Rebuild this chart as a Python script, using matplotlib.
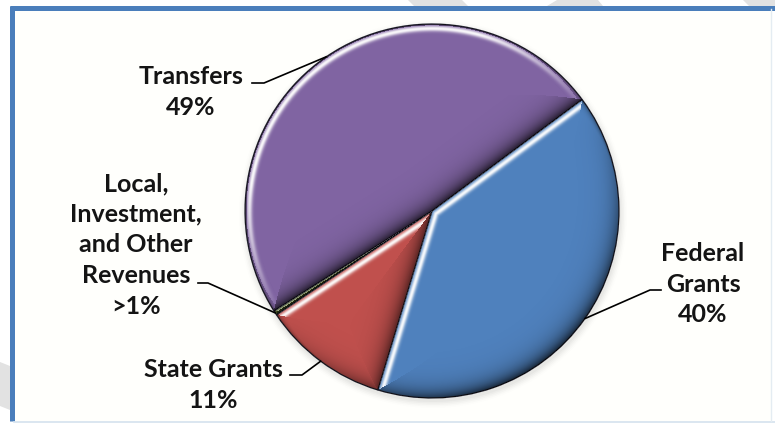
import numpy as np
import matplotlib
matplotlib.use("Agg")
import matplotlib.pyplot as plt
from matplotlib.patches import Rectangle, Polygon, Circle

W, H = 775, 424

# revenue sources, in the order they are laid out clockwise
categories = ["Federal\nGrants", "State Grants",
              "Local,\nInvestment,\nand Other\nRevenues", "Transfers"]
shares = [40, 11, 0.4, 49]
share_labels = ["40%", "11%", ">1%", "49%"]
colors = ["#4f81bd", "#c0504d", "#56682e", "#8064a2"]

# label block centres and elbow of each leader line (pixels, y from top)
label_pos = [(703, 284), (213, 385), (136, 245), (191, 92)]
elbows = [((661, 290), (650, 290)), ((290, 375), (302, 375)),
          ((198, 283), (208, 283)), ((252, 83), (264, 83))]

cx, cy, R = 432, H - 211, 187


def yflip(p):
    return p[0], H - p[1]


fig = plt.figure(figsize=(W / 100, H / 100), dpi=100)
ax = fig.add_axes([0, 0, 1, 1])

# faint watermark stripes outside the frame
for poly in [[(408, 0), (462, 0), (468, 6), (414, 6)],
             [(547, 6), (557, 0), (598, 0), (603, 6)],
             [(743, 0), (775, 0), (775, 6), (749, 6)],
             [(0, 362), (10, 366), (10, 410), (0, 406)]]:
    ax.add_patch(Polygon([yflip(p) for p in poly], closed=True,
                         fc="#e2e2e2", ec="none", zorder=0))

# framed chart area
ax.add_patch(Rectangle((12, H - 421), 759, 414, fc="#fffffc", ec="none", zorder=1))
ax.plot([12, 12], [H - 421, H - 6], color="#4a7ebb", lw=3.6, solid_capstyle="butt", zorder=2)
ax.plot([10, 775], [H - 7.5, H - 7.5], color="#4a7ebb", lw=3.6, solid_capstyle="butt", zorder=2)
ax.plot([14, 775], [H - 421.5, H - 421.5], color="#d4e2ee", lw=1.2, zorder=2)
ax.plot([771, 771], [H - 421, H - 9], color="#e4ecf2", lw=1.0, zorder=2)

# soft shadow under the pie
for k, a in enumerate(np.linspace(0.06, 0.015, 5)):
    ax.add_patch(Circle((cx + 1, cy - 3), R + 1 + 1.5 * k, fc="#808080",
                        ec="none", alpha=a, zorder=2))

wedges, _ = ax.pie(shares, colors=colors, startangle=36.6, counterclock=False,
                   center=(cx, cy), radius=R, frame=True,
                   wedgeprops=dict(edgecolor="#22222e", linewidth=0.9, zorder=3))

# bevel: light from the upper left, highlight / shadow near every wedge edge
ys, xs = np.mgrid[0:H, 0:W]
px = xs + 0.5
py = H - (ys + 0.5)
dx = px - cx
dy = py - cy
r = np.hypot(dx, dy) + 1e-9
phi = np.degrees(np.arctan2(dy, dx)) % 360
light = np.array([-0.55, 0.83])
shade = np.zeros((H, W))
depth = np.full((H, W), np.inf)

for w in wedges:
    t1, t2 = w.theta1, w.theta2
    span = t2 - t1
    a = (phi - t1) % 360
    inside = (r <= R) & (a <= span)
    d_arc = R - r
    d1 = np.where(a <= 90, r * np.sin(np.radians(a)), r)
    d2 = np.where(span - a <= 90, r * np.sin(np.radians(span - a)), r)
    n1 = np.radians(t1 - 90)
    n2 = np.radians(t2 + 90)
    s_arc = (dx * light[0] + dy * light[1]) / r
    s1 = np.cos(n1) * light[0] + np.sin(n1) * light[1]
    s2 = np.cos(n2) * light[0] + np.sin(n2) * light[1]
    d = np.stack([d_arc, d1, d2])
    s = np.stack([s_arc, np.full_like(r, s1), np.full_like(r, s2)])
    idx = np.argmin(d, axis=0)
    dmin = np.take_along_axis(d, idx[None], 0)[0]
    smin = np.take_along_axis(s, idx[None], 0)[0]
    shade[inside] = smin[inside]
    depth[inside] = dmin[inside]

hi = np.clip(shade * 1.5, 0, 1) * np.exp(-((depth - 4.5) / 2.8) ** 2)
lo = np.clip(-shade, 0, None) * np.exp(-depth / 9.0)
overlay = np.zeros((H, W, 4))
overlay[..., :3] = np.where((hi > lo)[..., None], 1.0, 0.0)
overlay[..., 3] = np.clip(np.where(hi > lo, 0.95 * hi, 0.75 * lo), 0, 1)
# dark outer rim all round
rim = np.exp(-np.clip(R - r, 0, None) / 2.2) * (r <= R)
mask = rim * 0.5 > overlay[..., 3]
overlay[mask, :3] = 0
overlay[mask, 3] = rim[mask] * 0.5
ax.imshow(overlay, extent=(0, W, 0, H), origin="upper", interpolation="bilinear", zorder=4)

# labels and leader lines
txt = dict(fontfamily="Lato", fontweight="bold", fontsize=18, color="#141414",
           ha="center", va="center", linespacing=1.4, zorder=6)
for w, name, pct, pos, (e0, e1) in zip(wedges, categories, share_labels, label_pos, elbows):
    mid = np.radians((w.theta1 + w.theta2) / 2)
    anchor = (cx + R * np.cos(mid), cy + R * np.sin(mid))
    ax.plot([yflip(e0)[0], yflip(e1)[0], anchor[0]],
            [yflip(e0)[1], yflip(e1)[1], anchor[1]], color="black", lw=1.2, zorder=5)
    ax.text(*yflip(pos), name + "\n" + pct, **txt)

ax.set_xlim(0, W)
ax.set_ylim(0, H)
ax.axis("off")
fig.savefig("out.png", dpi=100, facecolor="white")
